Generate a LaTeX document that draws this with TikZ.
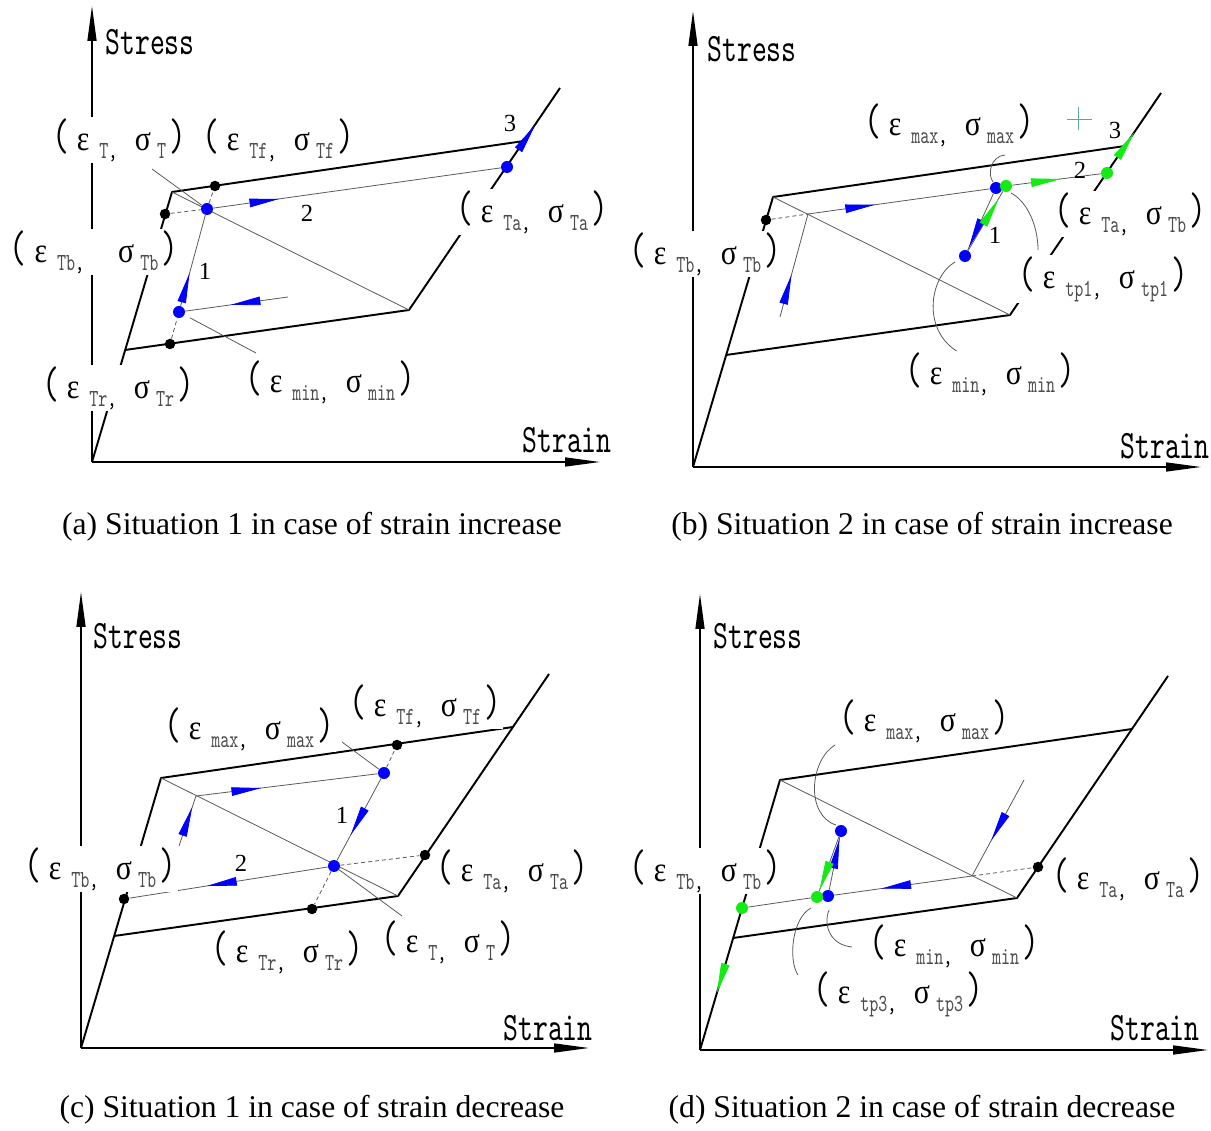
\documentclass[tikz,border=0pt]{standalone}
\usepackage{fontspec}
\setmainfont{Liberation Serif}
\newfontfamily\cadfont[FakeStretch=0.7]{lmmono10-regular.otf}
\newfontfamily\cadgreek[FakeStretch=0.85]{Liberation Serif}
\usetikzlibrary{arrows.meta,decorations.markings}
\definecolor{cadblue}{RGB}{0,0,255}
\definecolor{cadgreen}{RGB}{20,235,20}
\definecolor{cadteal}{RGB}{90,170,160}

\newcommand\subfnt{\fontsize{14}{14}\selectfont}
\newcommand\parfnt{\fontsize{26}{26}\selectfont}
% ( eps_sub , sigma_sub ) label, optional gap after the comma
\newcommand\pairlbl[3][0.35cm]{{\parfnt(}\hspace{0.16cm}{\cadgreek\fontsize{20}{20}\selectfont ε}\hspace{0.2cm}\raisebox{-0.16cm}{{\subfnt\color{black!70}#2}\subfnt,}\hspace{#1}{\cadgreek\fontsize{20}{20}\selectfont σ}\hspace{0.12cm}\raisebox{-0.16cm}{\subfnt\color{black!70}#3}\hspace{0.06cm}{\parfnt)}}

\tikzset{
  skel/.style={line width=1.1pt, line join=round},
  axisline/.style={line width=0.8pt, -{Triangle[length=0.7cm,width=0.18cm]}},
  thinline/.style={line width=0.45pt, black!65},
  dashline/.style={line width=0.45pt, black!65, dash pattern=on 0.08cm off 0.06cm},
  bdot/.style={circle, fill=cadblue, inner sep=0pt, minimum size=0.24cm},
  gdot/.style={circle, fill=cadgreen, inner sep=0pt, minimum size=0.24cm},
  kdot/.style={circle, fill=black, inner sep=0pt, minimum size=0.21cm},
  lbl/.style={fill=white, inner sep=1pt, font=\cadfont\fontsize{19}{19}\selectfont},
  axlbl/.style={inner sep=0pt, font=\cadfont\fontsize{23}{23}\selectfont},
  numlbl/.style={inner sep=0pt, font=\fontsize{14}{14}\selectfont},
  caption/.style={inner sep=0pt, font=\fontsize{18}{18}\selectfont},
  flow/.style 2 args={postaction={decorate, decoration={markings,
      mark=at position #1 with {\arrow{Triangle[length=0.6cm,width=0.17cm,color=#2]}}}}}
}

% axes and the common loop outline of one panel
\newcommand\drawskel[1]{%
  \coordinate (#1O) at (0,0);
  \coordinate (#1LL) at (33,-112);
  \coordinate (#1TL) at (80,-270);
  \coordinate (#1TR) at (432,-321);
  \coordinate (#1LR) at (317,-152);
  \coordinate (#1Top) at (468,-374);
  \coordinate (#1Ytip) at (0,-456);
  \coordinate (#1Xtip) at (508,0);
  \draw[axisline] (#1O) -- (#1Ytip);
  \draw[axisline] (#1O) -- (#1Xtip);
  \draw[skel] (#1O) -- (#1TL) -- (#1TR);
  \draw[skel] (#1LL) -- (#1LR) -- (#1Top);
  \draw[thinline] (#1TL) -- (#1LR);
}

\begin{document}
\begin{tikzpicture}[x=0.02cm, y=-0.02cm]
  \path[fill=white] (0,0) rectangle (1211,1131);
  \useasboundingbox (0,0) rectangle (1211,1131);

  % (a)
  \begin{scope}[shift={(92,462)}]
    \drawskel{a}
    \node[kdot] (aTb) at (73,-248) {};
    \node[kdot] (aTf) at (123,-276) {};
    \node[kdot] (aTr) at (78,-118) {};
    \node[bdot] (aT) at (115,-253) {};
    \node[bdot] (amin) at (87,-150) {};
    \node[bdot] (aTa) at (415,-295) {};
    \coordinate (aminend) at (196,-165);
    \coordinate (aleadT) at (60,-293);
    \coordinate (aleadmin) at (164,-109);
    \draw[dashline] (aTb) -- (aT);
    \draw[dashline] (aTr) -- (amin);
    \draw[dashline] (aT) -- (aTf);
    \draw[thinline, flow={0.56}{cadblue}] (aminend) -- (amin);
    \draw[thinline, flow={0.36}{cadblue}] (amin) -- (aT);
    \draw[thinline, flow={0.23}{cadblue}] (aT) -- (aTa);
    \path[flow={0.5}{cadblue}] (aTa) -- (aTop);
    \draw[thinline] (aleadT) -- (aT);
    \draw[thinline, shorten <=0.12cm] (amin) -- (aleadmin);
    \node[numlbl] (an1) at (113,-191) {1};
    \node[numlbl] (an2) at (215,-249) {2};
    \node[numlbl] (an3) at (418,-339) {3};
    \node[lbl] (aLT) at (27,-322) {\pairlbl{T}{T}};
    \node[lbl] (aLTf) at (186,-322) {\pairlbl{Tf}{Tf}};
    \node[lbl] (aLTb) at (2,-210) {\pairlbl[0.68cm]{Tb}{Tb}};
    \node[lbl] (aLTr) at (26,-74) {\pairlbl{Tr}{Tr}};
    \node[lbl] (aLmin) at (238,-80) {\pairlbl{min}{min}};
    \node[lbl] (aLTa) at (440,-250) {\pairlbl{Ta}{Ta}};
    \node[axlbl] (astress) at (58,-420) {Stress};
    \node[axlbl] (astrain) at (475,-22) {Strain};
  \end{scope}

  % (b)
  \begin{scope}[shift={(693,467)}]
    \drawskel{b}
    \node[kdot] (bTb) at (73,-247) {};
    \coordinate (bP) at (115,-253);
    \coordinate (bstart) at (87,-150);
    \node[bdot] (bmax) at (303,-279) {};
    \node[bdot] (bmin) at (272,-211) {};
    \node[gdot] (btp) at (313,-281) {};
    \node[gdot] (bTa) at (414,-294) {};
    \draw[dashline] (bTb) -- (bP);
    \draw[thinline, flow={0.41}{cadblue}] (bstart) -- (bP);
    \draw[thinline, flow={0.37}{cadblue}] (bP) -- (bmax);
    \draw[thinline, flow={0.95}{cadblue}] (bmax) -- (bmin);
    \draw[thinline, flow={0.88}{cadgreen}] (bmin) -- (btp);
    \draw[thinline, flow={0.55}{cadgreen}] (btp) -- (bTa);
    \path[flow={0.47}{cadgreen}] (bTa) -- (bTop);
    \coordinate (bam1) at (312,-312);
    \coordinate (bam2) at (300,-285);
    \draw[thinline] (bam1) .. controls (298,-311) and (294,-293) .. (bam2);
    \coordinate (bat1) at (318,-274);
    \coordinate (bat2) at (345,-217);
    \draw[thinline] (bat1) .. controls (335,-265) and (345,-240) .. (bat2);
    \coordinate (ban1) at (262,-205);
    \coordinate (ban2) at (267,-114);
    \draw[thinline] (ban1) .. controls (236,-190) and (228,-135) .. (ban2);
    \coordinate (bcross) at (385,-348);
    \draw[cadteal, line width=0.3pt] (bcross) ++(-11,0) -- ++(25,0);
    \draw[cadteal, line width=0.3pt] (bcross) ++(0,-12) -- ++(0,23);
    \node[numlbl] (bn1) at (302,-232) {1};
    \node[numlbl] (bn2) at (387,-297) {2};
    \node[numlbl] (bn3) at (422,-337) {3};
    \node[lbl] (bLmax) at (256,-342) {\pairlbl{max}{max}};
    \node[lbl] (bLTb) at (12,-213) {\pairlbl{Tb}{Tb}};
    \node[lbl] (bLTa) at (437,-253) {\pairlbl{Ta}{Tb}};
    \node[lbl] (bLtp) at (410,-188) {\pairlbl{tp1}{tp1}};
    \node[lbl] (bLmin) at (297,-93) {\pairlbl{min}{min}};
    \node[axlbl] (bstress) at (59,-418) {Stress};
    \node[axlbl] (bstrain) at (472,-21) {Strain};
  \end{scope}

  % (c)
  \begin{scope}[shift={(81,1048)}]
    \drawskel{c}
    \node[bdot] (cmax) at (303,-275) {};
    \node[kdot] (cTf) at (316,-303) {};
    \node[bdot] (cT) at (253,-182) {};
    \node[kdot] (cTr) at (231,-139) {};
    \node[kdot] (cTa) at (344,-193) {};
    \node[kdot] (cTb) at (43,-149) {};
    \coordinate (cP) at (115,-252);
    \coordinate (cstart) at (98,-202);
    \coordinate (cleadmax) at (261,-306);
    \coordinate (cleadT) at (321,-132);
    \draw[dashline] (cmax) -- (cTf);
    \draw[dashline] (cT) -- (cTa);
    \draw[dashline] (cT) -- (cTr);
    \draw[thinline, flow={0.78}{cadblue}] (cstart) -- (cP);
    \draw[thinline, flow={0.36}{cadblue}] (cP) -- (cmax);
    \draw[thinline, flow={0.69}{cadblue}] (cmax) -- (cT);
    \draw[thinline, flow={0.61}{cadblue}] (cT) -- (cTb);
    \draw[thinline] (cleadmax) -- (cmax);
    \draw[thinline] (cT) -- (cleadT);
    \node[numlbl] (cn1) at (261,-233) {1};
    \node[numlbl] (cn2) at (160,-185) {2};
    \node[lbl] (cLmax) at (168,-319) {\pairlbl{max}{max}};
    \node[lbl] (cLTf) at (344,-342) {\pairlbl{Tf}{Tf}};
    \node[lbl] (cLTb) at (19,-179) {\pairlbl{Tb}{Tb}};
    \node[lbl] (cLTa) at (431,-177) {\pairlbl{Ta}{Ta}};
    \node[lbl] (cLTr) at (206,-96) {\pairlbl{Tr}{Tr}};
    \node[lbl] (cLT) at (367,-106) {\pairlbl{T}{T}};
    \node[axlbl] (cstress) at (57,-412) {Stress};
    \node[axlbl] (cstrain) at (467,-20) {Strain};
  \end{scope}

  % (d)
  \begin{scope}[shift={(700,1050)}]
    \drawskel{d}
    \node[kdot] (dTa) at (338,-183) {};
    \coordinate (dQ) at (272,-174);
    \coordinate (dstart) at (324,-270);
    \node[bdot] (dmin) at (128,-154) {};
    \node[bdot] (dmax) at (141,-219) {};
    \node[gdot] (dtp) at (117,-153) {};
    \node[gdot] (dTb) at (42,-142) {};
    \draw[dashline] (dQ) -- (dTa);
    \draw[thinline, flow={0.63}{cadblue}] (dstart) -- (dQ);
    \draw[thinline, flow={0.66}{cadblue}] (dQ) -- (dmin);
    \draw[thinline, flow={0.97}{cadblue}] (dmin) -- (dmax);
    \draw[thinline, flow={0.99}{cadgreen}] (dmax) -- (dtp);
    \draw[thinline] (dtp) -- (dTb);
    \path[flow={0.58}{cadgreen}] (dTb) -- (dO);
    \coordinate (dam1) at (135,-305);
    \coordinate (dam2) at (136,-225);
    \draw[thinline] (dam1) .. controls (110,-290) and (105,-235) .. (dam2);
    \coordinate (dan1) at (129,-140);
    \coordinate (dan2) at (152,-103);
    \draw[thinline] (dan1) .. controls (123,-125) and (130,-105) .. (dan2);
    \coordinate (dat1) at (111,-142);
    \coordinate (dat2) at (98,-75);
    \draw[thinline] (dat1) .. controls (92,-132) and (88,-90) .. (dat2);
    \node[lbl] (dLmax) at (224,-329) {\pairlbl{max}{max}};
    \node[lbl] (dLTb) at (5,-179) {\pairlbl{Tb}{Tb}};
    \node[lbl] (dLTa) at (428,-171) {\pairlbl{Ta}{Ta}};
    \node[lbl] (dLmin) at (254,-104) {\pairlbl{min}{min}};
    \node[lbl] (dLtp) at (198,-56) {\pairlbl{tp3}{tp3}};
    \node[axlbl] (dstress) at (58,-414) {Stress};
    \node[axlbl] (dstrain) at (455,-22) {Strain};
  \end{scope}

  \node[caption] (capa) at (312,527) {(a) Situation 1 in case of strain increase};
  \node[caption] (capb) at (922,527) {(b) Situation 2 in case of strain increase};
  \node[caption] (capc) at (312,1110) {(c) Situation 1 in case of strain decrease};
  \node[caption] (capd) at (922,1110) {(d) Situation 2 in case of strain decrease};
\end{tikzpicture}
\end{document}
